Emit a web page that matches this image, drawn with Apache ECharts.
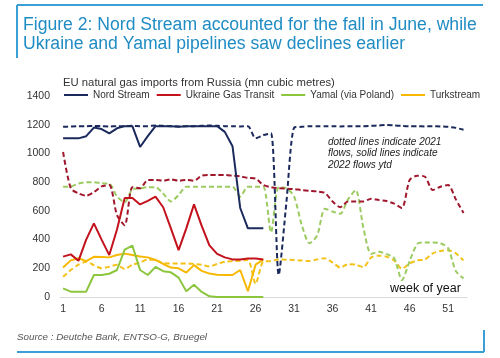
<!DOCTYPE html>
<html><head><meta charset="utf-8">
<script src="https://cdn.jsdelivr.net/npm/echarts@6/dist/echarts.min.js"></script>
<style>html,body{margin:0;padding:0;background:#fff}#c{width:500px;height:358px}</style>
</head><body><div id="c"></div>
<script>
const weeks = [1,2,3,4,5,6,7,8,9,10,11,12,13,14,15,16,17,18,19,20,21,22,23,24,25,26,27,28,29,30,31,32,33,34,35,36,37,38,39,40,41,42,43,44,45,46,47,48,49,50,51,52,53];
const xTickWeeks = [1,6,11,16,21,26,31,36,41,46,51];
const yTicks = [0,200,400,600,800,1000,1200,1400];

// 2022 (solid), weeks 1-27
const nordStream2022 = [1105,1105,1105,1120,1180,1170,1140,1175,1190,1190,1045,1120,1190,1190,1190,1185,1190,1190,1190,1190,1190,1150,1050,620,478,478,478];
const ukraine2022 = [281,297,252,400,513,400,292,470,690,690,645,670,699,625,478,327,478,645,495,360,300,276,262,262,268,268,262];
const yamal2022 = [60,37,37,37,153,153,162,188,330,358,188,153,210,180,172,135,40,85,35,5,0,0,0,0,0,0,0];
const turk2022 = [205,255,270,250,280,278,276,292,302,292,282,276,258,230,205,200,170,222,182,163,155,153,153,188,40,225,262];

// 2021 (dashed), weeks 1-53
const nordStream2021 = [1185,1188,1190,1190,1192,1190,1188,1190,1190,1192,1190,1190,1195,1192,1190,1188,1190,1190,1192,1195,1192,1190,1190,1188,1190,1105,1128,1140,153,660,1180,1185,1190,1190,1190,1190,1188,1190,1190,1190,1192,1195,1198,1195,1192,1190,1190,1188,1190,1188,1185,1178,1165];
const ukraine2021 = [1010,757,722,705,730,770,780,570,500,765,757,815,815,810,820,810,815,810,845,850,850,850,845,840,830,825,780,765,757,755,752,745,740,735,725,665,625,665,665,665,685,675,668,650,620,815,845,838,745,768,780,680,585];
const yamal2021 = [768,770,790,800,800,792,790,700,660,750,757,765,765,720,665,710,768,768,768,768,768,768,768,700,768,768,768,450,765,757,700,500,374,430,615,595,580,680,745,480,300,315,300,270,118,250,370,380,380,375,340,180,130];
const turk2021 = [141,188,225,245,222,200,211,224,195,225,240,262,258,235,234,234,234,230,225,212,230,246,250,252,258,92,246,250,262,260,258,255,250,262,270,240,205,228,225,208,275,288,281,255,197,234,255,262,304,320,325,304,255];

const names = ['Nord Stream','Ukraine Gas Transit','Yamal (via Poland)','Turkstream'];
const col22 = ['#1b2a5c','#c3121c','#8cc63f','#f6b800'];
const col21 = ['#1b2a5c','#a0162b','#9ccb62','#f3c21a'];

function pairs(vals){ return vals.map((v,i)=>[weeks[i], v]); }

const FONT = 'Liberation Sans, Arial, sans-serif';
const data22 = [nordStream2022, ukraine2022, yamal2022, turk2022];
const data21 = [nordStream2021, ukraine2021, yamal2021, turk2021];

const series = [];
for (let k = 3; k >= 0; k--) {
  series.push({
    name: names[k] + ' 2021', type: 'line', data: pairs(data21[k]), showSymbol: false,
    smooth: 0.25, lineStyle: { color: col21[k], width: 2, type: [5, 3] }, itemStyle: { color: col21[k] },
    silent: true, z: 2
  });
}
for (let k = 3; k >= 0; k--) {
  series.push({
    name: names[k], type: 'line', data: pairs(data22[k]), showSymbol: false,
    smooth: false, lineStyle: { color: col22[k], width: 2 }, itemStyle: { color: col22[k] },
    silent: true, z: 3
  });
}

const frameColor = '#3a9fd6';
const option = {
  animation: false,
  backgroundColor: '#fff',
  grid: { left: 60, right: 33, top: 96, bottom: 61 },
  legend: {
    data: names, left: 64, top: 90, width: 430, icon: 'rect', itemWidth: 24, itemHeight: 2, itemGap: 7, padding: 0,
    textStyle: { fontSize: 10, color: '#333', fontFamily: FONT }
  },
  xAxis: {
    type: 'value', min: 0.6, max: 53.45,
    axisLine: { show: true, lineStyle: { color: '#d9d9d9', width: 1 } },
    axisTick: { show: false },
    splitLine: { show: false },
    axisLabel: { customValues: xTickWeeks, fontSize: 10.5, color: '#333', fontFamily: FONT, margin: 7 }
  },
  yAxis: {
    type: 'value', min: yTicks[0], max: yTicks[yTicks.length-1], interval: 200,
    axisLine: { show: false }, axisTick: { show: false }, splitLine: { show: false },
    axisLabel: { fontSize: 10.5, color: '#333', fontFamily: FONT, margin: 10, formatter: v => String(v) }
  },
  series: series,
  graphic: [
    { type: 'line', shape: { x1: 17, y1: 5, x2: 483, y2: 5 }, style: { stroke: frameColor, lineWidth: 2 } },
    { type: 'line', shape: { x1: 17, y1: 5, x2: 17, y2: 58 }, style: { stroke: frameColor, lineWidth: 2 } },
    { type: 'line', shape: { x1: 17, y1: 352, x2: 484, y2: 352 }, style: { stroke: frameColor, lineWidth: 2 } },
    { type: 'line', shape: { x1: 484, y1: 330, x2: 484, y2: 352 }, style: { stroke: frameColor, lineWidth: 2 } },
    { type: 'text', style: { x: 23, y: 25, text: 'Figure 2: Nord Stream accounted for the fall in June, while', font: '17.6px ' + FONT, fill: '#1f8cc4', verticalAlign: 'middle' } },
    { type: 'text', style: { x: 23, y: 44, text: 'Ukraine and Yamal pipelines saw declines earlier', font: '17.6px ' + FONT, fill: '#1f8cc4', verticalAlign: 'middle' } },
    { type: 'text', style: { x: 63, y: 83, text: 'EU natural gas imports from Russia (mn cubic metres)', font: '11.3px ' + FONT, fill: '#333', verticalAlign: 'middle' } },
    { type: 'text', style: { x: 328, y: 142, text: 'dotted lines indicate 2021', font: 'italic 10px ' + FONT, fill: '#222', verticalAlign: 'middle' } },
    { type: 'text', style: { x: 328, y: 153.5, text: 'flows, solid lines indicate', font: 'italic 10px ' + FONT, fill: '#222', verticalAlign: 'middle' } },
    { type: 'text', style: { x: 328, y: 165, text: '2022 flows ytd', font: 'italic 10px ' + FONT, fill: '#222', verticalAlign: 'middle' } },
    { type: 'text', style: { x: 390, y: 289, text: 'week of year', font: '12.5px ' + FONT, fill: '#111', verticalAlign: 'middle' } },
    { type: 'text', style: { x: 17, y: 337, text: 'Source : Deutche Bank, ENTSO-G, Bruegel', font: 'italic 9.8px ' + FONT, fill: '#555', verticalAlign: 'middle' } }
  ]
};
const chart = echarts.init(document.getElementById('c'), null, { renderer: 'canvas' });
chart.setOption(option);
</script>
</body></html>
